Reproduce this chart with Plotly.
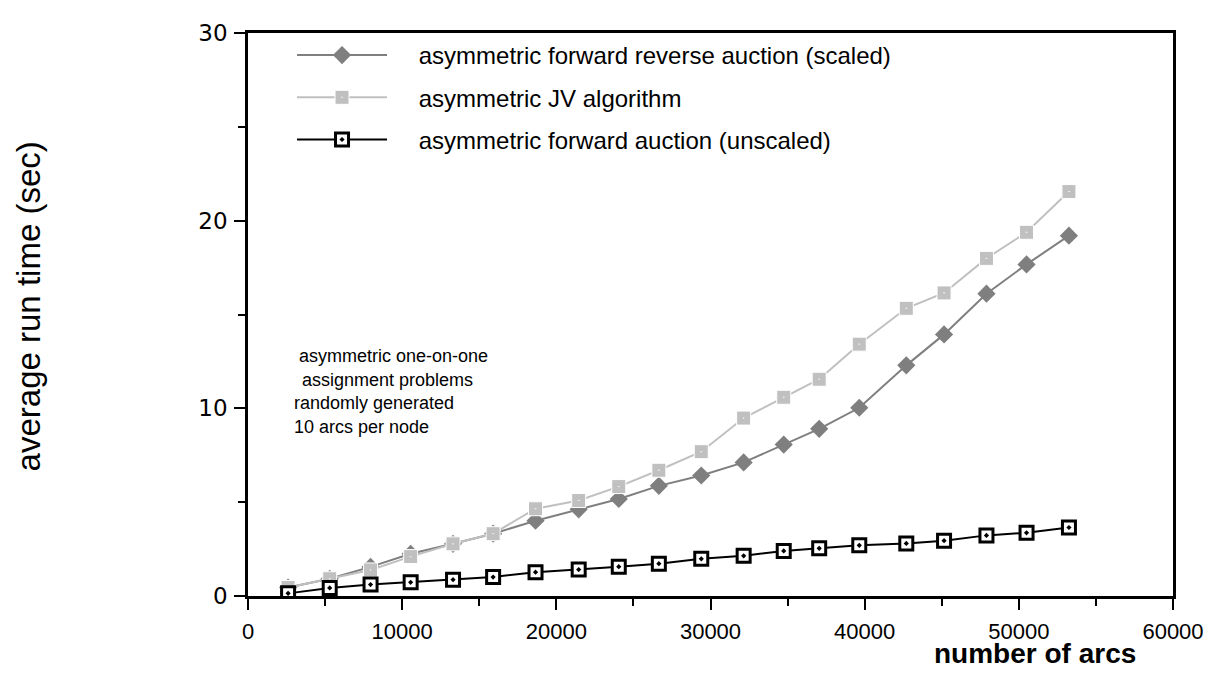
import plotly.graph_objects as go

arcs = [2600, 5300, 7950, 10550, 13300, 15900, 18650, 21450, 24050, 26650,
        29400, 32150, 34750, 37050, 39650, 42700, 45150, 47900, 50500, 53250]
fr_scaled = [0.45, 0.92, 1.55, 2.25, 2.78, 3.32, 4.01, 4.62, 5.17, 5.87,
             6.42, 7.12, 8.07, 8.91, 10.03, 12.29, 13.94, 16.11, 17.67, 19.20]
jv = [0.45, 0.92, 1.39, 2.10, 2.78, 3.32, 4.65, 5.09, 5.83, 6.70,
      7.69, 9.48, 10.59, 11.55, 13.42, 15.33, 16.15, 17.99, 19.38, 21.55]
fwd_unscaled = [0.14, 0.43, 0.61, 0.73, 0.87, 1.01, 1.27, 1.41, 1.56, 1.72,
                1.98, 2.14, 2.40, 2.54, 2.70, 2.80, 2.95, 3.23, 3.37, 3.65]

names = ["asymmetric forward reverse auction (scaled)",
         "asymmetric JV algorithm",
         "asymmetric forward auction (unscaled)"]
note_lines = ["asymmetric one-on-one", "assignment problems",
              "randomly generated", "10 arcs per node"]
note_x = [0.053, 0.056, 0.048, 0.048]
note_y = [0.4270, 0.3845, 0.3420, 0.2995]
y_title = "average run time (sec)"
x_title = "number of arcs"

PAD = "\u00a0" * 4
FONT = "Liberation Sans, Arial, sans-serif"

fig = go.Figure()
fig.add_trace(go.Scatter(
    x=arcs, y=fr_scaled, name=PAD + names[0], mode="lines+markers",
    legendgroup="a",
    line=dict(color="#7f7f7f", width=2),
    marker=dict(symbol="diamond", size=14, color="#7f7f7f")))
fig.add_trace(go.Scatter(
    x=arcs, y=jv, name=PAD + names[1], mode="lines+markers",
    legendgroup="b",
    line=dict(color="#c0c0c0", width=2),
    marker=dict(symbol="square-dot", size=14, color="#c0c0c0",
                line=dict(color="white", width=1))))
fig.add_trace(go.Scatter(
    x=arcs, y=fwd_unscaled, name=PAD + names[2], mode="lines+markers",
    legendgroup="c",
    line=dict(color="black", width=2),
    marker=dict(symbol="square-dot", size=13, color="white",
                line=dict(color="black", width=3))))

for txt, nx, ny in zip(note_lines, note_x, note_y):
    fig.add_annotation(
        x=nx, y=ny, xref="paper", yref="paper", xanchor="left", yanchor="middle",
        text=txt, showarrow=False,
        font=dict(family=FONT, size=18, color="black"))
fig.add_annotation(
    x=0.962, y=-0.1330, xref="paper", yref="paper", xanchor="right",
    yanchor="bottom", text="<b>" + x_title + "</b>", showarrow=False,
    font=dict(family=FONT, size=28, color="black"))
fig.add_annotation(
    x=-0.237, y=0.514, xref="paper", yref="paper", xanchor="center",
    yanchor="middle", text=y_title, textangle=-90, showarrow=False,
    font=dict(family=FONT, size=33, color="black"))

fig.update_layout(
    width=1209, height=665,
    margin=dict(l=240, r=44, t=12, b=77),
    plot_bgcolor="white", paper_bgcolor="white",
    font=dict(family=FONT, size=22, color="black"),
    showlegend=True,
    legend=dict(x=0.0476, y=1.0, xanchor="left", yanchor="top",
                bgcolor="rgba(0,0,0,0)", itemwidth=90,
                font=dict(family=FONT, size=24), traceorder="grouped",
                tracegroupgap=8),
    xaxis=dict(range=[0, 60000], dtick=10000, tick0=0,
               showgrid=False, zeroline=False,
               showline=True, linecolor="black", linewidth=2.5, mirror=True,
               ticks="outside", ticklen=11, tickwidth=2, tickcolor="black",
               minor=dict(dtick=5000, ticks="outside", ticklen=7,
                          tickwidth=2, tickcolor="black"),
               ticklabelstandoff=3,
               tickfont=dict(family=FONT, size=22), tickformat="d"),
    yaxis=dict(range=[0, 30], dtick=10, tick0=0,
               showgrid=False, zeroline=False,
               showline=True, linecolor="black", linewidth=2.5, mirror=True,
               ticks="outside", ticklen=11, tickwidth=2, tickcolor="black",
               minor=dict(dtick=5, ticks="outside", ticklen=7,
                          tickwidth=2, tickcolor="black"),
               ticklabelstandoff=2,
               tickfont=dict(family="DejaVu Sans", size=23)),
)

fig.write_html("out.html")
